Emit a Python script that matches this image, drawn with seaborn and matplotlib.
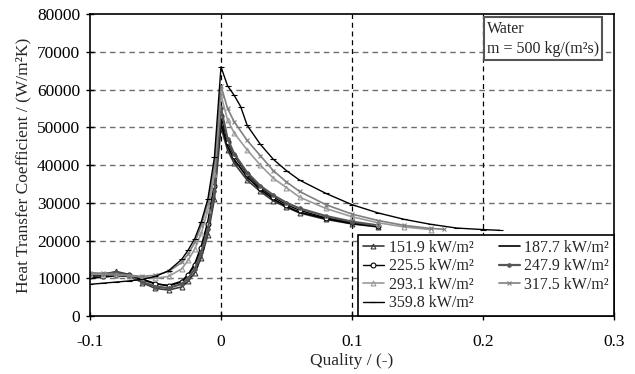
import numpy as np
import pandas as pd
import matplotlib
matplotlib.use("Agg")
import matplotlib.pyplot as plt
import seaborn as sns

sns.set_theme(style="white")
plt.rcParams['font.family'] = ['Liberation Serif', 'DejaVu Serif']
plt.rcParams['mathtext.fontset'] = 'custom'

labels = ["151.9 kW/m²", "187.7 kW/m²", "225.5 kW/m²", "247.9 kW/m²",
          "293.1 kW/m²", "317.5 kW/m²", "359.8 kW/m²"]

q_left = [-0.1, -0.09, -0.08, -0.07, -0.06, -0.05, -0.04, -0.03, -0.025, -0.02,
          -0.015, -0.01, -0.005, 0.0]

q_359 = q_left + [0.005, 0.01, 0.015, 0.02, 0.03, 0.04, 0.05, 0.06, 0.08, 0.1,
                  0.12, 0.14, 0.16, 0.18, 0.2, 0.213]
h_359 = [8400, 8700, 9000, 9300, 9700, 10500, 12000, 15000, 17500, 20500, 25000,
         31000, 42000, 66000, 61000, 58500, 55500, 50500, 45500, 41500, 38500,
         36000, 32500, 29500, 27300, 25600, 24300, 23300, 22900, 22700]

q_317 = q_left + [0.005, 0.01, 0.02, 0.03, 0.04, 0.05, 0.06, 0.08, 0.1, 0.12,
                  0.14, 0.16, 0.17]
h_317 = [11500, 11300, 11000, 10800, 10500, 10800, 11800, 14200, 16500, 19500,
         24000, 30000, 40000, 61000, 55000, 51500, 46500, 42500, 38500, 35500,
         33000, 29500, 27000, 25300, 24000, 23200, 23000]

q_293 = q_left + [0.005, 0.01, 0.02, 0.03, 0.04, 0.05, 0.06, 0.08, 0.1, 0.12,
                  0.14, 0.16]
h_293 = [11200, 11000, 10900, 10700, 10300, 10000, 10500, 12500, 14800, 17800,
         22000, 28000, 37500, 58500, 52000, 48500, 44000, 40000, 36500, 34000,
         31500, 28500, 26300, 24700, 23600, 22900]

q_low = q_left + [0.005, 0.01, 0.02, 0.03, 0.04, 0.05, 0.06, 0.08, 0.1, 0.12]
h_247 = [11000, 11200, 11500, 10500, 9000, 7800, 7400, 8500, 10000, 12500, 17000,
         23000, 33000, 55000, 47000, 43000, 38000, 34500, 32000, 30000, 28500,
         26500, 25000, 24000]
h_225 = [10500, 10700, 11000, 10800, 9800, 8600, 8000, 9000, 10800, 13500, 18000,
         24500, 34500, 53000, 46000, 42500, 37500, 34000, 31500, 29500, 28000,
         26000, 24800, 23800]
h_187 = [10000, 10300, 10700, 10500, 9600, 8500, 8100, 9200, 11000, 13800, 18500,
         25000, 35000, 51000, 45000, 41500, 36800, 33500, 31000, 29000, 27500,
         25800, 24500, 23700]
h_151 = [10800, 11000, 11800, 11000, 8800, 7300, 6900, 7700, 9200, 11500, 15500,
         21500, 31000, 50000, 44000, 40500, 36000, 33000, 30500, 28800, 27300,
         25600, 24400, 23600]

x_ticks = [-0.1, 0.0, 0.1, 0.2, 0.3]
x_ticklabels = ["-0.1", "0", "0.1", "0.2", "0.3"]
y_ticks = [0, 10000, 20000, 30000, 40000, 50000, 60000, 70000, 80000]

series = [
    (labels[0], q_low, h_151, dict(color="#3a3a3a", marker="^", mfc="none", ms=3.5, lw=1.2)),
    (labels[1], q_low, h_187, dict(color="black", marker=None, lw=1.2)),
    (labels[2], q_low, h_225, dict(color="black", marker="o", mfc="white", ms=3.5, lw=1.0)),
    (labels[3], q_low, h_247, dict(color="#555555", marker="o", mfc="#555555", ms=2.5, lw=1.6)),
    (labels[4], q_293, h_293, dict(color="#9a9a9a", marker="^", mfc="none", ms=3.5, lw=1.2)),
    (labels[5], q_317, h_317, dict(color="#808080", marker="x", ms=3.0, lw=1.2)),
    (labels[6], q_359, h_359, dict(color="black", marker="_", ms=4.0, lw=1.0)),
]

fig = plt.figure(figsize=(6.35, 3.74), dpi=100)
ax = fig.add_axes([0.1417, 0.155, 0.8252, 0.8075])

handles = {}
for lab, q, h, st in series:
    df = pd.DataFrame({"q": q, "h": h})
    kw = dict(color=st["color"], linewidth=st["lw"])
    if st.get("marker"):
        kw.update(marker=st["marker"], markersize=st["ms"],
                  markeredgecolor=st["color"], markeredgewidth=0.8)
        if "mfc" in st:
            kw["markerfacecolor"] = st["mfc"]
    sns.lineplot(data=df, x="q", y="h", ax=ax, sort=False, label=lab, **kw)
    handles[lab] = ax.get_lines()[-1]

ax.set_xlim(-0.1, 0.3)
ax.set_ylim(0, 80000)
ax.set_xticks(x_ticks)
ax.set_xticklabels(x_ticklabels)
ax.set_yticks(y_ticks)
ax.set_yticklabels([str(v) for v in y_ticks])
ax.tick_params(axis="both", direction="inout", length=6, width=1, colors="black",
               labelsize=12.5, bottom=True, left=True, pad=4)
ax.tick_params(axis="x", pad=10)

for v in y_ticks[1:-1]:
    ax.axhline(v, color="#6e6e6e", lw=1.0, ls=(0, (4, 3)), zorder=0.5)
for v in [0.0, 0.1, 0.2]:
    ax.axvline(v, color="black", lw=0.9, ls=(0, (4, 3)), zorder=0.5)

for s in ax.spines.values():
    s.set_color("black")
    s.set_linewidth(1.2)

ax.set_xlabel("Quality / (-)", fontsize=12.5, labelpad=2)
ax.set_ylabel("Heat Transfer Coefficient / (W/m²K)", fontsize=12.5, labelpad=4)

order = [labels[0], labels[2], labels[4], labels[6], labels[1], labels[3], labels[5]]
leg = ax.legend([handles[l] for l in order], order, ncol=2, loc="lower right",
                bbox_to_anchor=(1.0, 0.0), borderaxespad=0, fancybox=False,
                framealpha=1, edgecolor="black", fontsize=11.5, handlelength=1.3,
                handletextpad=0.3, columnspacing=1.6, labelspacing=0.15,
                borderpad=0.3)
leg.get_frame().set_linewidth(1.2)

ax.text(0.758, 0.978, "Water\nm = 500 kg/(m²s)", transform=ax.transAxes,
        fontsize=11.5, va="top", ha="left", linespacing=1.35,
        bbox=dict(boxstyle="square,pad=0.2", fc="white", ec="#555555", lw=1.5))

fig.savefig("out.png", dpi=100)
